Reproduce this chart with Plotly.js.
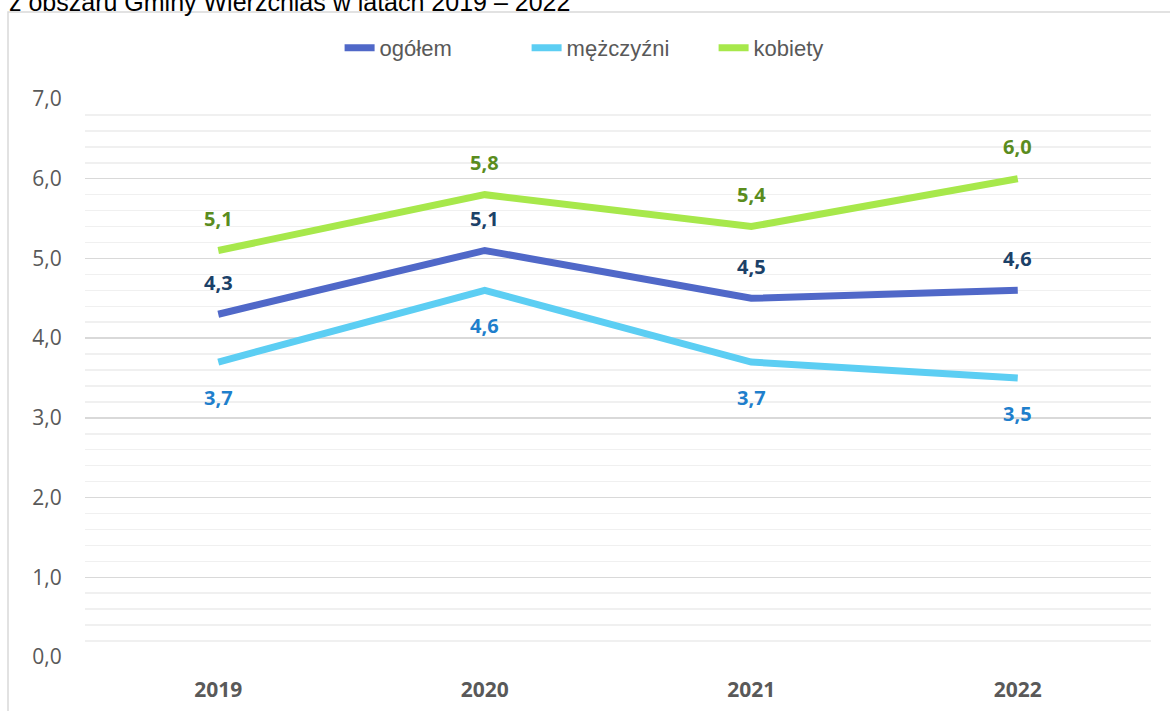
<!DOCTYPE html>
<html>
<head>
<meta charset="utf-8">
<script src="https://cdn.plot.ly/plotly-3.0.1.min.js"></script>
<style>
html,body{margin:0;padding:0;background:#fff;}
#chart{width:1170px;height:711px;}
</style>
</head>
<body>
<div id="chart"></div>
<script>
const years = ['2019', '2020', '2021', '2022'];
const ogolem = [4.3, 5.1, 4.5, 4.6];
const mezczyzni = [3.7, 4.6, 3.7, 3.5];
const kobiety = [5.1, 5.8, 5.4, 6.0];
const seriesNames = ['ogółem', 'mężczyźni', 'kobiety'];
const titleText = 'z obszaru Gminy Wierzchlas w latach 2019 – 2022';

const lineColors = ['#5068c8', '#5ccef3', '#a7e84b'];
const labelColors = ['#1b4168', '#1f7fcc', '#5a8c1e'];
const labelShift = [32, -35, 32];
const seriesData = [ogolem, mezczyzni, kobiety];

const traces = seriesData.map((vals, i) => ({
  x: years, y: vals, type: 'scatter', mode: 'lines', name: seriesNames[i],
  line: {color: lineColors[i], width: 7},
  hoverinfo: 'skip'
}));

const annotations = [];
seriesData.forEach((vals, i) => {
  vals.forEach((v, j) => {
    annotations.push({
      x: j, y: v, xref: 'x', yref: 'y', showarrow: false,
      text: v.toFixed(1).replace('.', ','), yshift: labelShift[i],
      font: {family: '"Open Sans", Arial, sans-serif', size: 20, color: labelColors[i], weight: 'bold'}
    });
  });
});
annotations.push({
  xref: 'paper', yref: 'paper', x: (8 - 85) / 1066, y: (657 - 17) / 558,
  xanchor: 'left', yanchor: 'bottom', showarrow: false, borderpad: 0,
  text: titleText, font: {family: 'Liberation Sans, Arial, sans-serif', size: 25, color: '#000'}
});

const layout = {
  width: 1170, height: 711,
  margin: {l: 85, r: 19, t: 99, b: 54},
  paper_bgcolor: '#fff', plot_bgcolor: '#fff',
  separators: ',.',
  showlegend: true,
  legend: {
    orientation: 'h', x: 0.53, xanchor: 'center', xref: 'container',
    y: (711 - 48) / 711, yref: 'container', yanchor: 'middle',
    font: {family: 'Liberation Sans, Arial, sans-serif', size: 22, color: '#595959'},
    entrywidth: 142, entrywidthmode: 'pixels'
  },
  xaxis: {
    type: 'category', range: [-0.5, 3.5], showgrid: false, zeroline: false,
    showline: false, ticks: 'outside', ticklen: 14, tickcolor: 'rgba(0,0,0,0)',
    tickfont: {family: '"Open Sans", Arial, sans-serif', size: 21, color: '#595959', weight: 'bold'},
    fixedrange: true
  },
  yaxis: {
    range: [0, 7], dtick: 1, tick0: 0, tickformat: '.1f',
    showgrid: true, gridcolor: '#d9d9d9', gridwidth: 1.5, zeroline: false, showline: false,
    ticks: 'outside', ticklen: 18, tickcolor: 'rgba(0,0,0,0)',
    tickfont: {family: '"Open Sans", Arial, sans-serif', size: 21, color: '#595959'},
    minor: {dtick: 0.2, showgrid: true, gridcolor: '#f0f0f0', gridwidth: 1.5},
    fixedrange: true
  },
  shapes: [{
    type: 'rect', xref: 'paper', yref: 'paper',
    x0: (8 - 85) / 1066, x1: 1.2, y0: -0.2, y1: (657 - 12) / 558,
    line: {color: '#d9d9d9', width: 1.5}, fillcolor: 'rgba(0,0,0,0)', layer: 'below'
  }],
  annotations: annotations
};

Plotly.newPlot('chart', traces, layout, {displayModeBar: false, staticPlot: true});
</script>
</body>
</html>
